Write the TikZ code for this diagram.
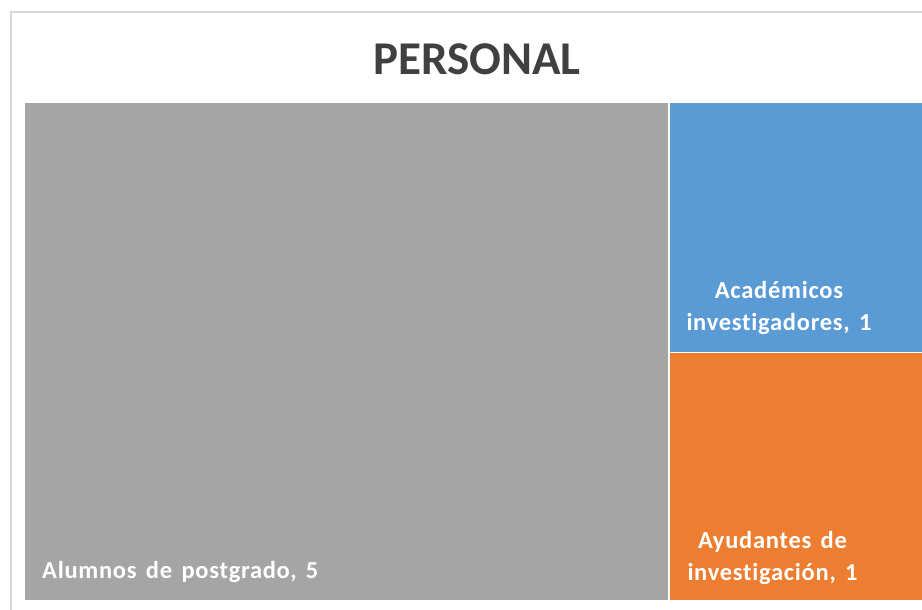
\documentclass[tikz,border=0pt]{standalone}
\usepackage{fontspec}
\setmainfont{Carlito}[Ligatures={NoCommon}]
\newfontfamily\tilefont{Carlito}[Ligatures={NoCommon}, LetterSpace=3]
\newcommand{\tilelabelfont}{\fontsize{24.5}{28}\tilefont\bfseries\spaceskip=0.38em\relax}
\definecolor{tilegray}{HTML}{A5A5A5}
\definecolor{tileblue}{HTML}{5B9BD5}
\definecolor{tileorange}{HTML}{ED7D31}
\definecolor{framegray}{HTML}{D9D9D9}
\definecolor{titlegray}{HTML}{404040}
\tikzset{
    tile/.style={rectangle, draw=none, inner sep=0pt, anchor=north west},
    tilelabel/.style={text=white, inner sep=0pt, anchor=base, font=\tilelabelfont},
}
\begin{document}
\begin{tikzpicture}[x=1pt, y=-1pt]
        \useasboundingbox (0, 0) rectangle (922, 610);
        \fill[white] (0, 0) rectangle (922, 610);
        \draw[framegray, line width=2pt] (11, 12) rectangle (940, 630);
        \node[font=\fontsize{47}{56}\selectfont\bfseries, text=titlegray, anchor=base] (title) at (477, 75) {PERSONAL};
        \node[tile, fill=tilegray, minimum width=643pt, minimum height=497pt] (alumnos) at (25, 103) {};
        \node[tile, fill=tileblue, minimum width=252pt, minimum height=249pt] (academicos) at (670, 103) {};
        \node[tile, fill=tileorange, minimum width=252pt, minimum height=247pt] (ayudantes) at (670, 353) {};
        \node[tilelabel, anchor=base west] (alumnoslbl) at (42, 578) {Alumnos de postgrado, 5};
        \node[tilelabel] (academicoslbla) at (779, 298) {Académicos};
        \node[tilelabel] (academicoslblb) at (779, 330) {investigadores, 1};
        \node[tilelabel] (ayudanteslbla) at (772.5, 548) {Ayudantes de};
        \node[tilelabel] (ayudanteslblb) at (772.5, 580) {investigación, 1};
    \end{tikzpicture}
\end{document}
